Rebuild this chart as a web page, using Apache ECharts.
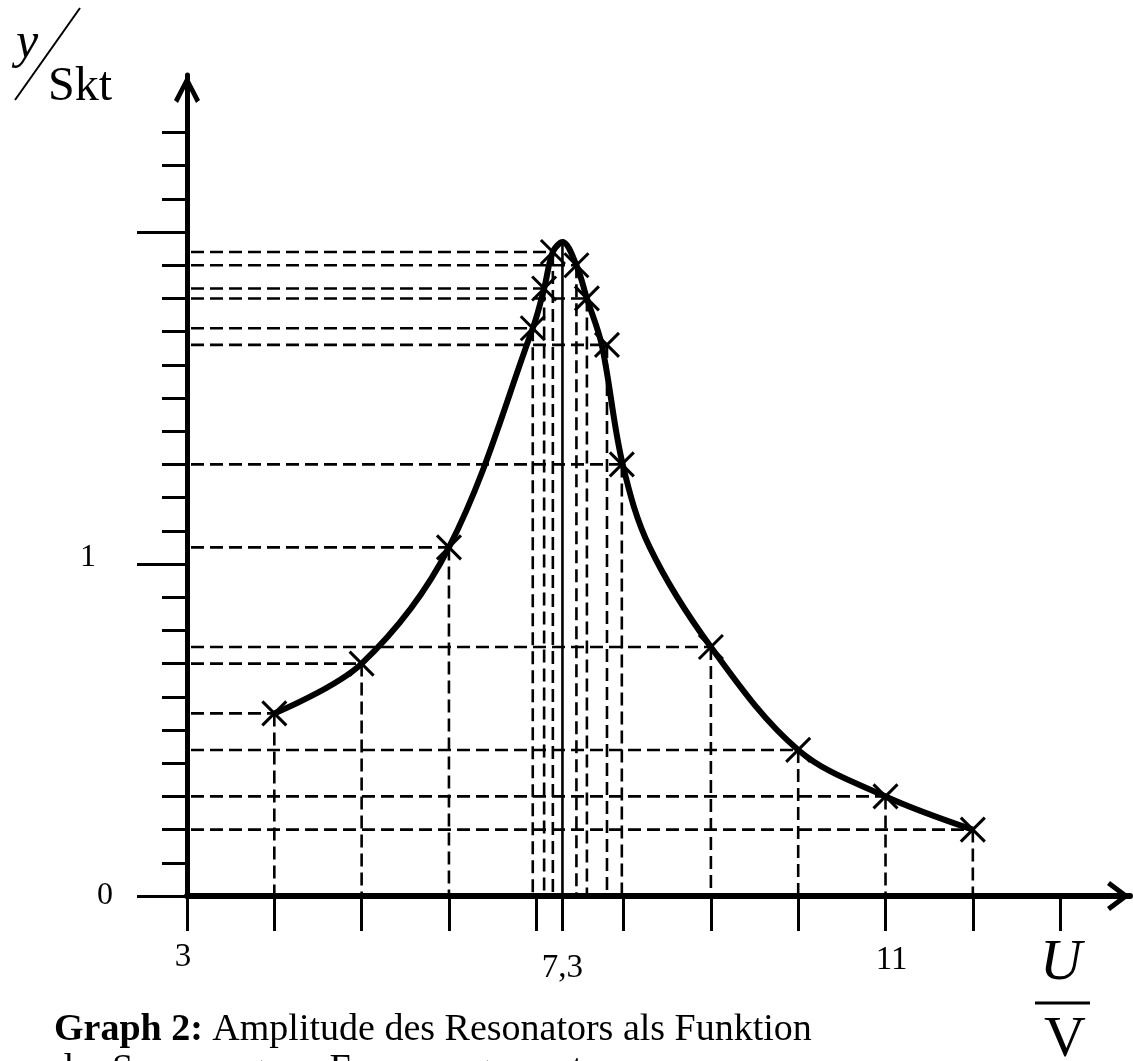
<!DOCTYPE html>
<html>
<head>
<meta charset="utf-8">
<script src="https://cdn.jsdelivr.net/npm/echarts@6/dist/echarts.min.js"></script>
<style>
html,body{margin:0;padding:0;background:#fff;}
#c{width:1133px;height:1061px;}
</style>
</head>
<body>
<div id="c"></div>
<script>
const uValues = [4, 5, 6, 6.96, 7.09, 7.19, 7.46, 7.58, 7.81, 7.98, 9, 10, 11, 12];
const yValues = [0.55, 0.70, 1.05, 1.71, 1.83, 1.94, 1.90, 1.80, 1.66, 1.30, 0.75, 0.44, 0.30, 0.20];
// ---- hand-drawn resonance curve ----
const curveU = [4, 5, 6, 6.96, 7.09, 7.19, 7.3, 7.46, 7.58, 7.75, 7.99, 8.3, 9, 10, 11, 12];
const curveY = [0.55, 0.70, 1.05, 1.71, 1.83, 1.94, 1.97, 1.90, 1.80, 1.66, 1.30, 1.05, 0.75, 0.44, 0.30, 0.20];
// ---- resonance peak (solid drop line) ----
const peakU = [7.3];
const peakY = [1.97];
// ---- axes ----
const xTickValues = [3, 4, 5, 6, 7, 7.3, 8, 9, 10, 11, 12, 13];
const xLabelValues = [3, 7.3, 11];
const xLabelTexts = ['3', '7,3', '11'];
const yMinorTickValues = [0.1, 0.2, 0.3, 0.4, 0.5, 0.6, 0.7, 0.8, 0.9,
                          1.1, 1.2, 1.3, 1.4, 1.5, 1.6, 1.7, 1.8, 1.9,
                          2.1, 2.2, 2.3];
const yMajorTickValues = [0, 1, 2];
const yLabelValues = [0, 1];
const yLabelTexts = ['0', '1'];

// ---- build series data ----
const measured = uValues.map((u, i) => [u, yValues[i]]);
const curve = curveU.map((u, i) => [u, curveY[i]]);
const peak = peakU.map((u, i) => [u, peakY[i]]);

const X_MIN = 3, X_MAX = 13.8, Y_MIN = 0, Y_MAX = 2.473;
const FONT = '"Liberation Serif", "Times New Roman", serif';

const dashStyle = { stroke: '#000', lineWidth: 2.6, lineDash: [13, 6] };

function renderGuides(params, api) {
  const u = api.value(0), v = api.value(1);
  const p = api.coord([u, v]);
  const pY = api.coord([X_MIN, v]);
  const pX = api.coord([u, Y_MIN]);
  return {
    type: 'group',
    children: [
      { type: 'line', shape: { x1: pY[0] + 4, y1: p[1], x2: p[0], y2: p[1] }, style: dashStyle },
      { type: 'line', shape: { x1: p[0], y1: p[1], x2: p[0], y2: pX[1] - 3 }, style: dashStyle }
    ]
  };
}
function renderPeak(params, api) {
  const p = api.coord([api.value(0), api.value(1)]);
  const pX = api.coord([api.value(0), Y_MIN]);
  return { type: 'line', shape: { x1: p[0], y1: p[1], x2: p[0], y2: pX[1] - 3 },
           style: { stroke: '#000', lineWidth: 2.6 } };
}
function renderCross(params, api) {
  const p = api.coord([api.value(0), api.value(1)]);
  const s = 12;
  const st = { stroke: '#000', lineWidth: 3 };
  return {
    type: 'group',
    children: [
      { type: 'line', shape: { x1: p[0] - s, y1: p[1] - s, x2: p[0] + s, y2: p[1] + s }, style: st },
      { type: 'line', shape: { x1: p[0] - s, y1: p[1] + s, x2: p[0] + s, y2: p[1] - s }, style: st }
    ]
  };
}

const arrowY = 'path://M13,0 L26,25 L22,28 L13,10 L4,28 L0,25 Z';
const arrowX = 'path://M15,0 L30,20 L26,23 L15,8.3 L4,23 L0,20 Z';

const chart = echarts.init(document.getElementById('c'), null, { renderer: 'canvas' });
chart.setOption({
  animation: false,
  backgroundColor: '#fff',
  grid: { left: 187, right: 3, top: 75, bottom: 165, outerBoundsMode: 'none', containLabel: false },
  xAxis: {
    type: 'value', min: X_MIN, max: X_MAX,
    axisLine: { show: true, onZero: false,
      lineStyle: { color: '#000', width: 6 },
      symbol: ['none', arrowX], symbolSize: [30, 23], symbolOffset: [0, -11.5] },
    axisTick: { show: true, customValues: xTickValues, length: 35, inside: false,
      lineStyle: { color: '#000', width: 3 } },
    axisLabel: { show: true, customValues: xLabelValues, margin: 45, color: '#000',
      fontFamily: FONT, fontSize: 33,
      formatter: function (v) {
        const i = xLabelValues.indexOf(v);
        const key = ['a', 'b', 'c'][i];
        return '{' + key + '|' + xLabelTexts[i] + '}';
      },
      rich: {
        a: { fontFamily: FONT, fontSize: 33, color: '#000', padding: [0, 8, 0, 0] },
        b: { fontFamily: FONT, fontSize: 33, color: '#000', padding: [11, 0, 0, 0] },
        c: { fontFamily: FONT, fontSize: 33, color: '#000', padding: [3, 0, 0, 12] }
      }
    },
    splitLine: { show: false }
  },
  yAxis: [
    {
      type: 'value', min: Y_MIN, max: Y_MAX,
      axisLine: { show: true, onZero: false,
        lineStyle: { color: '#000', width: 5 },
        symbol: ['none', arrowY], symbolSize: [26, 28], symbolOffset: [0, -14] },
      axisTick: { show: true, customValues: yMinorTickValues, length: 25, inside: false,
        lineStyle: { color: '#000', width: 3 } },
      axisLabel: { show: false },
      splitLine: { show: false }
    },
    {
      type: 'value', min: Y_MIN, max: Y_MAX, position: 'left',
      axisLine: { show: false },
      axisTick: { show: true, customValues: yMajorTickValues, length: 50, inside: false,
        lineStyle: { color: '#000', width: 3 } },
      axisLabel: { show: true, customValues: yLabelValues, margin: 74, color: '#000',
        fontFamily: FONT, fontSize: 32,
        formatter: function (v) {
          const i = yLabelValues.indexOf(v);
          return '{' + (i === 0 ? 'z' : 'o') + '|' + yLabelTexts[i] + '}';
        },
        rich: {
          z: { fontFamily: FONT, fontSize: 32, color: '#000' },
          o: { fontFamily: FONT, fontSize: 32, color: '#000', padding: [0, 17, 12, 0] }
        }
      },
      splitLine: { show: false }
    }
  ],
  series: [
    { type: 'custom', name: 'guides', data: measured, renderItem: renderGuides, z: 2, silent: true },
    { type: 'custom', name: 'peak', data: peak, renderItem: renderPeak, z: 2, silent: true },
    { type: 'line', name: 'curve', data: curve, showSymbol: false, symbol: 'none',
      smooth: 0.35, lineStyle: { color: '#000', width: 6 }, z: 3 },
    { type: 'custom', name: 'marks', data: measured, renderItem: renderCross, z: 4, silent: true }
  ],
  graphic: [
    { type: 'text', x: 27, y: 44, style: { text: 'y', font: 'italic 50px ' + FONT, fill: '#000',
        align: 'center', verticalAlign: 'middle', textAlign: 'center', textVerticalAlign: 'middle' } },
    { type: 'line', shape: { x1: 80, y1: 8, x2: 15, y2: 100 }, style: { stroke: '#000', lineWidth: 2 } },
    { type: 'text', x: 48, y: 87, style: { text: 'Skt', font: '48px ' + FONT, fill: '#000',
        align: 'left', verticalAlign: 'middle', textAlign: 'left', textVerticalAlign: 'middle' } },
    { type: 'text', x: 1061, y: 964, style: { text: 'U', font: 'italic 58px ' + FONT, fill: '#000',
        align: 'center', verticalAlign: 'middle', textAlign: 'center', textVerticalAlign: 'middle' } },
    { type: 'line', shape: { x1: 1035, y1: 1003, x2: 1090, y2: 1003 }, style: { stroke: '#000', lineWidth: 3 } },
    { type: 'text', x: 1065, y: 1041, style: { text: 'V', font: '58px ' + FONT, fill: '#000',
        align: 'center', verticalAlign: 'middle', textAlign: 'center', textVerticalAlign: 'middle' } },
    { type: 'text', x: 54, y: 1010, style: {
        text: '{b|Graph 2:} Amplitude des Resonators als Funktion\nder Spannung am Frequenzgenerator',
        fontFamily: FONT, fontSize: 38, lineHeight: 40, fill: '#000',
        rich: { b: { fontFamily: FONT, fontSize: 38, fontWeight: 'bold', lineHeight: 40, fill: '#000' } } } }
  ]
});
</script>
</body>
</html>
